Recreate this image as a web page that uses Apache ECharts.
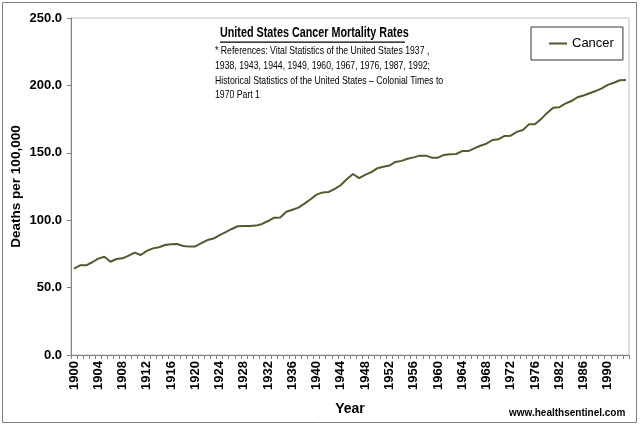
<!DOCTYPE html>
<html><head><meta charset="utf-8">
<script src="https://cdn.jsdelivr.net/npm/echarts@6/dist/echarts.min.js"></script>
<style>html,body{margin:0;padding:0;background:#fff}#c{width:640px;height:426px}</style>
</head><body><div id="c"></div>
<script>
const years = ['1900','1901','1902','1903','1904','1905','1906','1907','1908','1909',
 '1910','1911','1912','1913','1914','1915','1916','1917','1918','1919',
 '1920','1921','1922','1923','1924','1925','1926','1927','1928','1929',
 '1930','1931','1932','1933','1934','1935','1936','1937','1938','1939',
 '1940','1941','1942','1943','1944','1945','1946','1947','1948','1949',
 '1950','1951','1952','1953','1954','1955','1956','1957','1958','1959',
 '1960','1961','1962','1963','1964','1965','1966','1967','1968','1969',
 '1970','1971','1972','1973','1974','1975','1976','1977','1978','1980',
 '1982','1983','1984','1985','1986','1987','1988','1989','1990','1991','1992','1993'];
const cancer = [64.0,66.5,66.5,68.8,71.5,72.9,69.2,71.2,71.7,73.7,
 75.9,74.2,77.2,79.1,79.9,81.6,82.1,82.3,80.9,80.4,
 80.5,83.0,85.3,86.4,89.0,91.2,93.5,95.5,95.7,95.7,
 96.0,97.2,99.4,101.9,102.0,106.3,107.8,109.3,112.3,115.5,
 119.0,120.6,121.0,123.2,126.1,130.5,134.3,131.2,133.6,135.6,
 138.5,139.7,140.5,143.2,144.0,145.6,146.6,147.9,147.9,146.4,
 146.4,148.4,148.9,149.1,151.3,151.3,153.3,155.2,156.8,159.5,
 160.1,162.5,162.7,165.5,166.9,171.1,171.1,175.0,179.6,183.5,
 183.8,186.5,188.4,191.2,192.5,194.2,195.8,197.8,200.4,202.0,203.8,204.0];
const yTicks = {min:0, max:250, interval:50};
const titleText = 'United States Cancer Mortality Rates';
const noteLines = ['* References: Vital Statistics of the United States 1937 ,',
 '1938, 1943, 1944, 1949, 1960, 1967, 1976, 1987, 1992;',
 'Historical Statistics of the United States \u2013 Colonial Times to',
 '1970 Part 1'];

const sans = '"Liberation Sans", Arial, sans-serif';
const chart = echarts.init(document.getElementById('c'), null, {renderer:'canvas'});
chart.setOption({
  animation:false,
  backgroundColor:'#fff',
  grid:{left:71, right:11, top:18, bottom:71, show:true, borderColor:'#c0c0c0', borderWidth:1,
        containLabel:false, outerBoundsMode:'none'},
  legend:{
    left:531, top:27, orient:'vertical',
    padding:[10,9,10,18],
    borderColor:'#333', borderWidth:1, backgroundColor:'#fff',
    itemWidth:18, itemHeight:2, itemGap:4,
    icon:'rect',
    textStyle:{fontFamily:sans, fontSize:13, color:'#000'},
    data:['Cancer']
  },
  xAxis:{
    type:'category', data:years, boundaryGap:true,
    name:'Year', nameLocation:'middle', nameGap:47, nameMoveOverlap:false,
    nameTextStyle:{fontFamily:sans, fontWeight:'bold', fontSize:14, color:'#000'},
    axisLine:{lineStyle:{color:'#808080', width:1}},
    axisTick:{show:true, interval:0, length:4, lineStyle:{color:'#808080'}},
    axisLabel:{interval:3, rotate:90, fontFamily:sans, fontWeight:'bold', fontSize:13, color:'#000', margin:6}
  },
  yAxis:{
    type:'value', min:yTicks.min, max:yTicks.max, interval:yTicks.interval,
    name:'Deaths per 100,000', nameLocation:'middle', nameGap:48, nameMoveOverlap:false,
    nameTextStyle:{fontFamily:sans, fontWeight:'bold', fontSize:13.5, color:'#000'},
    axisLine:{show:true, lineStyle:{color:'#808080', width:1}},
    axisTick:{show:true, length:4, lineStyle:{color:'#808080'}},
    splitLine:{show:false},
    axisLabel:{formatter:v=>v.toFixed(1), fontFamily:sans, fontWeight:'bold', fontSize:13, color:'#000', margin:9}
  },
  series:[{
    name:'Cancer', type:'line', data:cancer, showSymbol:false, symbol:'none',
    lineStyle:{color:'#575730', width:2}, itemStyle:{color:'#575730'}
  }],
  graphic:[
    {type:'rect', shape:{x:2.5, y:2.5, width:634, height:420}, style:{fill:null, stroke:'#7f7f7f', lineWidth:1}, silent:true, z:-1},
    {type:'text', x:220, y:26, scaleX:0.77, style:{text:titleText, font:'bold 14px '+sans, fill:'#000', verticalAlign:'top', align:'left'}},
    {type:'rect', shape:{x:220, y:41.5, width:185, height:1.3}, style:{fill:'#000'}},
    {type:'text', x:215, y:44, scaleX:0.79, style:{text:noteLines.join('\n'), font:'11px '+sans, lineHeight:14.6, fill:'#000', verticalAlign:'top', align:'left'}},
    {type:'text', x:509, y:408, style:{text:'www.healthsentinel.com', font:'bold 10px '+sans, fill:'#000', verticalAlign:'top', align:'left'}}
  ]
});
</script></body></html>
